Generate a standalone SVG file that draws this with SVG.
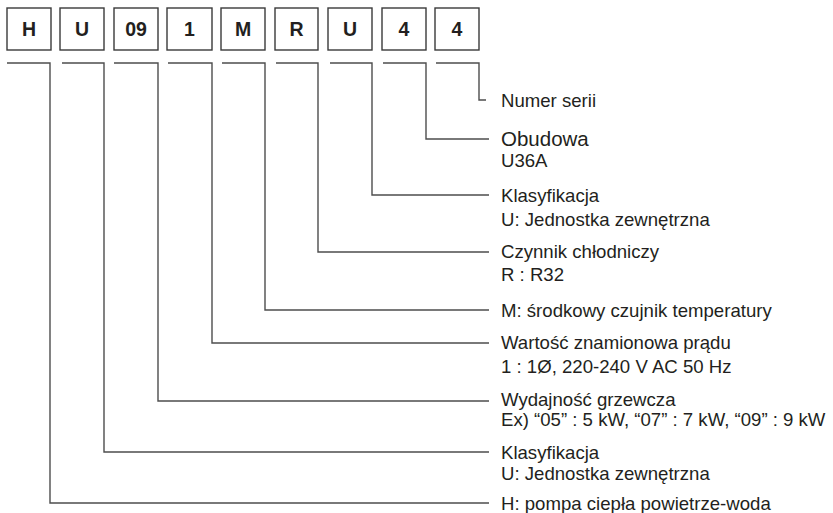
<svg xmlns="http://www.w3.org/2000/svg" width="833" height="513" viewBox="0 0 833 513">
<style>
.box rect{fill:#fff;stroke:#3a3a3a;stroke-width:1.4}
.box text{font-family:"Liberation Sans",Arial,sans-serif;font-weight:bold;font-size:19.5px;fill:#231f20;text-anchor:middle}
.conn path{fill:none;stroke:#4d4d4d;stroke-width:1.4}
.lbl text{font-family:"Liberation Sans",Arial,sans-serif;font-size:18.6px;fill:#231f20}
.lbl text.big{font-size:20.5px}
</style>
<rect width="833" height="513" fill="#fff"/>
<g id="box-H" class="box"><rect x="7" y="8" width="44" height="42"/><text x="29" y="36">H</text></g>
<g id="box-U" class="box"><rect x="60" y="8" width="44" height="42"/><text x="82" y="36">U</text></g>
<g id="box-09" class="box"><rect x="114" y="8" width="44" height="42"/><text x="136" y="36">09</text></g>
<g id="box-1" class="box"><rect x="167" y="8" width="45" height="42"/><text x="189.5" y="36">1</text></g>
<g id="box-M" class="box"><rect x="221" y="8" width="44" height="42"/><text x="243" y="36">M</text></g>
<g id="box-R" class="box"><rect x="275" y="8" width="43" height="42"/><text x="296.5" y="36">R</text></g>
<g id="box-U2" class="box"><rect x="328" y="8" width="44" height="42"/><text x="350" y="36">U</text></g>
<g id="box-4a" class="box"><rect x="382" y="8" width="44" height="42"/><text x="404" y="36">4</text></g>
<g id="box-4b" class="box"><rect x="435" y="8" width="44" height="42"/><text x="457" y="36">4</text></g>
<g id="connectors" class="conn">
<path d="M7 63H50V503H489"/>
<path d="M62 63H104V452H489"/>
<path d="M114 63H158V401H489"/>
<path d="M168 63H212V343H489"/>
<path d="M222 63H265V310H489"/>
<path d="M276 63H318V252H489"/>
<path d="M330 63H372V195H489"/>
<path d="M383 63H426V139H489"/>
<path d="M436 63H479V100H486"/>
</g>
<g id="lbl-seria" class="lbl"><text x="501" y="106.5">Numer serii</text></g>
<g id="lbl-obudowa" class="lbl"><text class="big" x="501" y="146">Obudowa</text><text x="501" y="167">U36A</text></g>
<g id="lbl-klas1" class="lbl"><text x="501" y="202">Klasyfikacja</text><text x="501" y="225.5">U: Jednostka zewnętrzna</text></g>
<g id="lbl-czynnik" class="lbl"><text x="501" y="258">Czynnik chłodniczy</text><text x="501" y="281">R : R32</text></g>
<g id="lbl-m" class="lbl"><text x="501" y="316.5">M: środkowy czujnik temperatury</text></g>
<g id="lbl-wartosc" class="lbl"><text x="501" y="349">Wartość znamionowa prądu</text><text x="501" y="373">1 : 1Ø, 220-240 V AC 50 Hz</text></g>
<g id="lbl-wydajnosc" class="lbl"><text x="501" y="405.5">Wydajność grzewcza</text><text x="501" y="425.5">Ex) “05” : 5 kW, “07” : 7 kW, “09” : 9 kW</text></g>
<g id="lbl-klas2" class="lbl"><text x="501" y="458.5">Klasyfikacja</text><text x="501" y="480">U: Jednostka zewnętrzna</text></g>
<g id="lbl-h" class="lbl"><text x="501" y="510">H: pompa ciepła powietrze-woda</text></g>
</svg>
